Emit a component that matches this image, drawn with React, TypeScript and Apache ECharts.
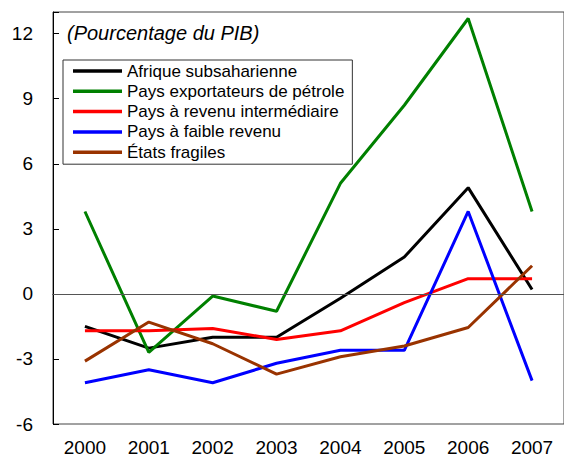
import React, { useEffect, useRef } from "react";
import * as echarts from "echarts";

const years = ["2000", "2001", "2002", "2003", "2004", "2005", "2006", "2007"];
const afrique = [-1.5, -2.5, -2.0, -2.0, -0.2, 1.7, 4.9, 0.2];
const petrole = [3.8, -2.7, -0.1, -0.8, 5.1, 8.7, 12.7, 3.8];
const intermediaire = [-1.7, -1.7, -1.6, -2.1, -1.7, -0.4, 0.7, 0.7];
const faible = [-4.1, -3.5, -4.1, -3.2, -2.6, -2.6, 3.8, -4.0];
const fragiles = [-3.1, -1.3, -2.3, -3.7, -2.9, -2.4, -1.55, 1.3];
const seriesNames = [
  "Afrique subsaharienne",
  "Pays exportateurs de pétrole",
  "Pays à revenu intermédiaire",
  "Pays à faible revenu",
  "États fragiles",
];
const seriesColors = ["#000000", "#008000", "#ff0000", "#0000ff", "#993300"];
const yTicks = [-6, -3, 0, 3, 6, 9, 12];
const titleText = "(Pourcentage du PIB)";

const FONT = '"Liberation Sans", Arial, sans-serif';

export default function App() {
  const ref = useRef<HTMLDivElement>(null);
  useEffect(() => {
    if (!ref.current) return;
    const chart = echarts.init(ref.current, undefined, { renderer: "svg" });
    const data = [afrique, petrole, intermediaire, faible, fragiles];
    chart.setOption({
      animation: false,
      backgroundColor: "#ffffff",
      title: {
        text: titleText,
        left: 67,
        top: 23,
        padding: 0,
        textStyle: {
          fontFamily: FONT,
          fontStyle: "italic",
          fontWeight: "normal",
          fontSize: 20,
          color: "#000",
        },
      },
      legend: {
        orient: "vertical",
        left: 63,
        top: 60,
        padding: [1, 8, 2, 10],
        borderColor: "#333",
        borderWidth: 1,
        backgroundColor: "#fff",
        icon: "rect",
        itemWidth: 49,
        itemHeight: 3.5,
        itemGap: 0.3,
        selectedMode: false,
        data: seriesNames,
        textStyle: {
          fontFamily: FONT,
          fontSize: 17,
          color: "#000",
          lineHeight: 20,
        },
      },
      grid: {
        left: 53,
        top: 12,
        right: -5,
        bottom: 36,
        show: true,
        borderColor: "#444",
        borderWidth: 1,
      },
      xAxis: {
        type: "category",
        data: years,
        boundaryGap: true,
        axisLine: { lineStyle: { color: "#000", width: 1 } },
        axisTick: { inside: true, length: 6, alignWithLabel: false, lineStyle: { color: "#000" } },
        axisLabel: { fontFamily: FONT, fontSize: 19, color: "#000", margin: 14 },
        splitLine: { show: false },
      },
      yAxis: {
        type: "value",
        min: -6,
        max: 13,
        interval: 3,
        axisLine: { show: true, lineStyle: { color: "#000", width: 1 } },
        axisTick: { show: true, inside: true, length: 6, lineStyle: { color: "#000" } },
        axisLabel: {
          fontFamily: FONT,
          fontSize: 19,
          color: "#000",
          margin: 20,
          formatter: (v: number) => (yTicks.includes(v) ? String(v) : ""),
        },
        splitLine: { show: false },
      },
      series: seriesNames.map((name, i) => ({
        name,
        type: "line",
        data: data[i],
        symbol: "none",
        color: seriesColors[i],
        lineStyle: { width: 3, color: seriesColors[i] },
        ...(i === 0
          ? {
              markLine: {
                silent: true,
                symbol: ["none", "none"],
                label: { show: false },
                lineStyle: { color: "#555", width: 1, type: "solid" },
                data: [{ yAxis: 0 }],
              },
            }
          : {}),
      })),
    });
    return () => chart.dispose();
  }, []);
  return (
    <div
      ref={ref}
      style={{ position: "absolute", left: 0, top: 0, width: 564, height: 460 }}
    />
  );
}
